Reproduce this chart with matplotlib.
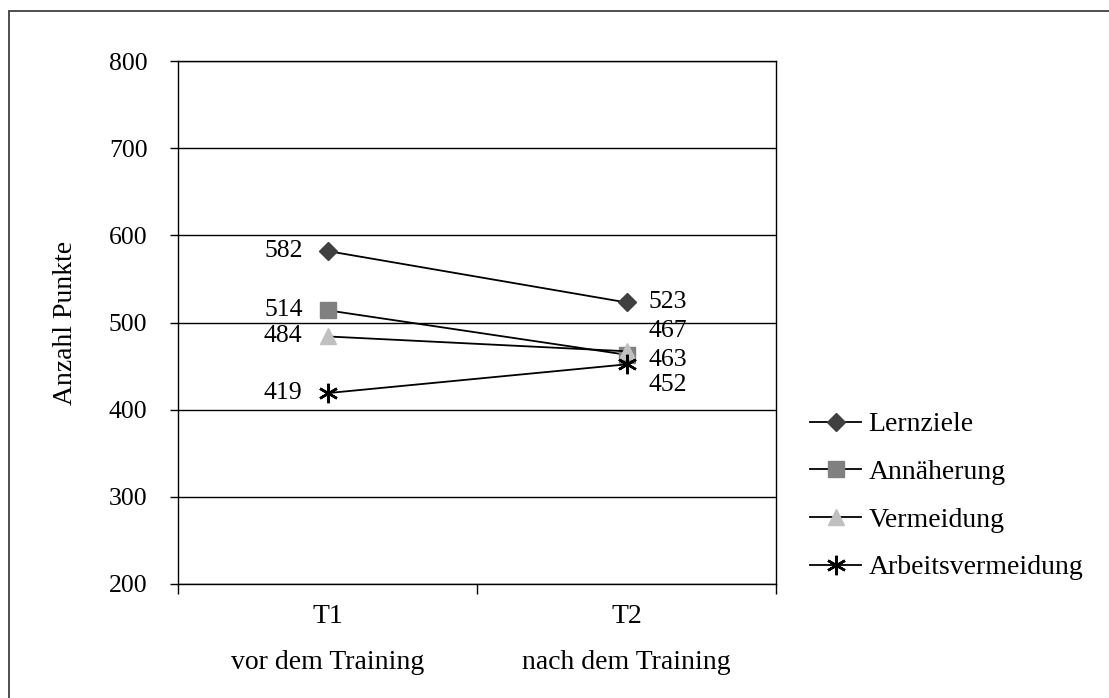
import numpy as np
import matplotlib.pyplot as plt
from matplotlib.patches import Rectangle

# data
zeitpunkte = ["T1\nvor dem Training", "T2\nnach dem Training"]
lernziele = [582, 523]
annaeherung = [514, 463]
vermeidung = [484, 467]
arbeitsvermeidung = [419, 452]
y_ticks = [200, 300, 400, 500, 600, 700, 800]

plt.rcParams['font.family'] = ['Liberation Serif', 'DejaVu Serif']
FS_NUM = 18.5
FS_TXT = 20

fig = plt.figure(figsize=(11.09, 6.98), dpi=100)
ax = fig.add_axes([178 / 1109, 1 - 584 / 698, 598 / 1109, 523 / 698])

# outer frame of the chart object
fig.patches.append(Rectangle((9 / 1109, -0.01), 1.2, 1 - 11 / 698 + 0.01,
                             transform=fig.transFigure, fill=False,
                             edgecolor="#404040", linewidth=1.3, zorder=0))

x = np.arange(len(zeitpunkte))
serien = [
    ("Lernziele", lernziele, dict(marker="D", markersize=9, markerfacecolor="#404040", markeredgecolor="#404040")),
    ("Annäherung", annaeherung, dict(marker="s", markersize=12, markerfacecolor="#808080", markeredgecolor="#808080")),
    ("Vermeidung", vermeidung, dict(marker="^", markersize=12, markerfacecolor="#c0c0c0", markeredgecolor="#c0c0c0")),
    ("Arbeitsvermeidung", arbeitsvermeidung, dict(marker=(6, 2, 0), markersize=14, markerfacecolor="black",
                                                  markeredgecolor="black", markeredgewidth=1.8)),
]
for name, werte, stil in serien:
    ax.plot(x, werte, color="black", linewidth=1.3, label=name, zorder=3, **stil)

# data labels (offsets in pixels as in the original layout)
t2_offsets = {"Lernziele": 0, "Annäherung": 5, "Vermeidung": -20, "Arbeitsvermeidung": 21}
for name, werte, stil in serien:
    ax.annotate(str(werte[0]), (x[0], werte[0]), xytext=(-18, 0), textcoords="offset points",
                ha="right", va="center", fontsize=FS_NUM)
    ax.annotate(str(werte[1]), (x[1], werte[1]), xytext=(16, -t2_offsets[name] * 0.72),
                textcoords="offset points", ha="left", va="center", fontsize=FS_NUM)

ax.set_xlim(-0.5, 1.5)
ax.set_ylim(200, 800)
ax.set_yticks(y_ticks)
ax.tick_params(axis="y", labelsize=FS_NUM, length=6, width=1, pad=16, direction="out")
ax.set_xticks([-0.5, 0.5, 1.5])
ax.set_xticklabels([])
ax.set_xticks(x, minor=True)
ax.set_xticklabels(zeitpunkte, minor=True, fontsize=FS_TXT, linespacing=2.1)
ax.tick_params(axis="x", which="major", length=7, width=1, direction="out")
ax.tick_params(axis="x", which="minor", length=0, pad=14.5)
ax.yaxis.grid(True, color="black", linewidth=1)
ax.set_axisbelow(True)
for s in ax.spines.values():
    s.set_linewidth(1)
    s.set_color("black")

ax.set_ylabel("Anzahl Punkte", fontsize=FS_TXT, labelpad=22)

fig.legend(loc="center left", bbox_to_anchor=(785 / 1109, 1 - 496 / 698), frameon=False,
           fontsize=FS_TXT, handlelength=1.85, handletextpad=0.25, labelspacing=0.8)

fig.savefig("out.png", dpi=100)
